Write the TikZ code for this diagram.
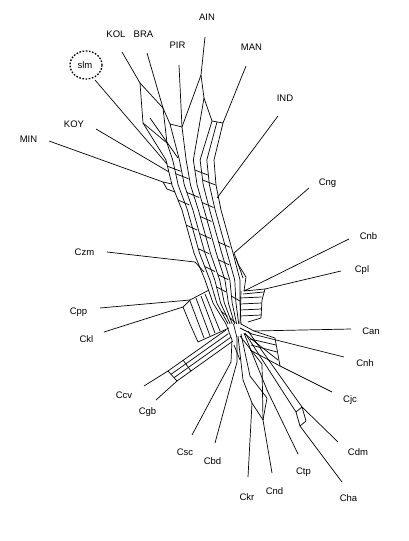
\documentclass[tikz,border=0pt]{standalone}
\usepackage{fontspec}
\setmainfont{Liberation Sans}
\usetikzlibrary{calc}
\begin{document}
\begin{tikzpicture}[x=1pt,y=-1pt,
  edge/.style={line width=0.7pt,black,line join=round},
  taxon/.style={font=\fontsize{9.5}{10}\selectfont,inner sep=0pt},
  ring/.style={line width=1.3pt,dash pattern=on 1.6pt off 1.6pt}]
\useasboundingbox[fill=white] (0,0) rectangle (408,541);

% ---------- taxon labels ----------
\node[taxon] (AIN) at (207,17) {AIN};
\node[taxon] (KOL) at (116,34.5) {KOL};
\node[taxon] (BRA) at (143.5,34) {BRA};
\node[taxon] (PIR) at (177.5,45.5) {PIR};
\node[taxon] (MAN) at (251.5,47) {MAN};
\node[taxon] (IND) at (285,98.5) {IND};
\node[taxon] (slm) at (85,65) {slm};
\node[taxon] (KOY) at (74,124) {KOY};
\node[taxon] (MIN) at (28.5,139) {MIN};
\node[taxon] (Cng) at (327.5,183) {Cng};
\node[taxon] (Czm) at (84.5,252) {Czm};
\node[taxon] (Cpp) at (78.5,312) {Cpp};
\node[taxon] (Ckl) at (86.5,339) {Ckl};
\node[taxon] (Cnb) at (368.5,236) {Cnb};
\node[taxon] (Cpl) at (362,270) {Cpl};
\node[taxon] (Can) at (371,331) {Can};
\node[taxon] (Cnh) at (365,363) {Cnh};
\node[taxon] (Cjc) at (350,400) {Cjc};
\node[taxon] (Cdm) at (358,452) {Cdm};
\node[taxon] (Cha) at (348.5,498.5) {Cha};
\node[taxon] (Ctp) at (303.5,472.5) {Ctp};
\node[taxon] (Cnd) at (274.5,491.5) {Cnd};
\node[taxon] (Ckr) at (247,497) {Ckr};
\node[taxon] (Cbd) at (212.5,461.5) {Cbd};
\node[taxon] (Csc) at (185,452.5) {Csc};
\node[taxon] (Cgb) at (147.5,412.5) {Cgb};
\node[taxon] (Ccv) at (124,395.5) {Ccv};
\draw[ring] (86,65) ellipse [x radius=16, y radius=14];

% ---------- central ribbon ----------
\coordinate (L0) at (166,160); \coordinate (R0) at (214,160);
\coordinate (L1) at (172,185); \coordinate (R1) at (216,185);
\coordinate (L2) at (182,210); \coordinate (R2) at (221,210);
\coordinate (L3) at (194,253); \coordinate (R3) at (233,253);
\coordinate (L4) at (205,280); \coordinate (R4) at (240,280);
\coordinate (L5) at (213,303); \coordinate (R5) at (240,303);
\coordinate (L6) at (226,324); \coordinate (R6) at (241,324);
\foreach \t in {0,0.14,0.28,0.42,0.57,0.71,0.85,1}
  \draw[edge] ($(L0)!\t!(R0)$) -- ($(L1)!\t!(R1)$) -- ($(L2)!\t!(R2)$)
    -- ($(L3)!\t!(R3)$) -- ($(L4)!\t!(R4)$) -- ($(L5)!\t!(R5)$) -- ($(L6)!\t!(R6)$);
% short slanted rungs between neighbouring strands
\foreach \i/\j/\s/\p/\q in {0/1/0.25/0/0.28, 0/1/0.55/0.14/0.42, 0/1/0.4/0.57/0.85,
    0/1/0.8/0.71/1, 1/2/0.3/0.28/0.57, 1/2/0.6/0/0.28, 1/2/0.7/0.57/0.85,
    2/3/0.15/0.42/0.71, 2/3/0.35/0/0.28, 2/3/0.55/0.28/0.57, 2/3/0.75/0.71/1,
    2/3/0.9/0.14/0.42, 3/4/0.25/0.57/0.85, 3/4/0.5/0.14/0.42, 3/4/0.8/0.42/0.71,
    4/5/0.3/0.28/0.57, 4/5/0.7/0.71/1, 5/6/0.4/0.14/0.42, 5/6/0.7/0.42/0.71}
{
  \path ($(L\i)!\s!(L\j)$) coordinate (rl) ($(R\i)!\s!(R\j)$) coordinate (rr);
  \draw[edge] ($(rl)!\p!(rr)$) -- ($(rl)!\q!(rr)+(0,5)$);
}

% ---------- upper group ----------
\coordinate (AIN-e) at (205,37);  \coordinate (AIN-a) at (201,75);
\coordinate (AIN-b) at (204,98);
\coordinate (MAN-e) at (246,66);  \coordinate (MAN-a) at (223,123);
\coordinate (PIR-e) at (179,65);  \coordinate (PIR-a) at (182,127);
\coordinate (BRA-e) at (147,53);  \coordinate (BRA-a) at (163,108);
\coordinate (KOL-e) at (122,52);  \coordinate (KOL-a) at (140,83);
\coordinate (slm-e) at (95,80);   \coordinate (slm-a) at (167,164);
\coordinate (KOY-e) at (96,129);  \coordinate (KOY-a) at (169,172);
\coordinate (MIN-e) at (49,141);  \coordinate (MIN-a) at (163,182);
\coordinate (IND-e) at (278,116); \coordinate (IND-a) at (217,198);

\draw[edge] (AIN-e) -- (AIN-a) -- (AIN-b);
\draw[edge] (AIN-a) -- (PIR-a);
\draw[edge] (AIN-b) -- ($(L0)!0.57!(R0)$);
\draw[edge] (AIN-b) -- (212,121) -- (MAN-a) -- (MAN-e);
\draw[edge] (212,121) -- ($(L0)!0.71!(R0)$);
\draw[edge] (217,122) -- ($(L0)!0.85!(R0)$);
\draw[edge] (MAN-a) -- (R0);
\draw[edge] (PIR-e) -- (PIR-a) -- ($(L0)!0.42!(R0)$);
\draw[edge] (PIR-a) -- (170,124) -- ($(L0)!0.28!(R0)$);
\draw[edge] (BRA-e) -- (BRA-a) -- (170,124);
\draw[edge] (KOL-e) -- (KOL-a) -- (BRA-a) -- (167,143) -- ($(L0)!0.14!(R0)$);
\draw[edge] (KOL-a) -- (143,123) -- (167,143);
\draw[edge] (143,123) -- (L0);
\draw[edge] (150,118) -- (178,158);
\draw[edge] (slm-e) -- (slm-a);
\draw[edge] (KOY-e) -- (KOY-a);
\draw[edge] (MIN-e) -- (MIN-a) -- (172,184);
\draw[edge] (MIN-a) -- (167,189) -- (175,192);
\draw[edge] (IND-e) -- (IND-a);

% ---------- right side ----------
\coordinate (Cng-e) at (309,188); \coordinate (Cng-a) at (234,253);
\coordinate (Cnb-e) at (349,239); \coordinate (Cnb-a) at (244,291);
\coordinate (Cpl-e) at (341,271); \coordinate (Cpl-a) at (265,289);
\coordinate (Can-e) at (351,329); \coordinate (Can-a) at (254,331);
\coordinate (Cnh-e) at (344,357); \coordinate (Cnh-a) at (252,334);
\coordinate (Cjc-e) at (332,392); \coordinate (Cjc-a) at (280,366);

\draw[edge] (Cng-e) -- (Cng-a) -- (238,264) -- (246,277) -- (Cnb-a);
\draw[edge] (236,258) -- (243,278);
\draw[edge] (Cnb-e) -- (Cnb-a) -- (Cpl-a) -- (Cpl-e);
\draw[edge] (243,294) -- (264,292);
\draw[edge] (Cpl-a) -- (262,300) -- (261,318) -- (248,322);
\draw[edge] (241,291) -- (240,324);
\foreach \y in {298,304,310,316} \draw[edge] (240,\y) -- (261.5,\y-1);
% Can / Cnh / Cjc block
\draw[edge] (Can-e) -- (Can-a);
\draw[edge] (Cnh-e) -- (Cnh-a);
\draw[edge] (R6) -- (Can-a) -- (275,338) -- (Cjc-a) -- (Cjc-e);
\draw[edge] (240,328) -- (Cnh-a);
\draw[edge] (250,339) -- (276,345);
\draw[edge] (251,345) -- (277,352);
\draw[edge] (250,350) -- (Cjc-a);
\draw[edge] (245,334) -- (278,360);

% ---------- left side ----------
\coordinate (Czm-e) at (107,252); \coordinate (Czm-a) at (195,262);
\coordinate (Cpp-e) at (100,308); \coordinate (Cpp-a) at (190,300);
\coordinate (Ckl-e) at (104,332); \coordinate (Ckl-a) at (183,307);
\draw[edge] (Czm-e) -- (Czm-a) -- (204,272);
\draw[edge] (Cpp-e) -- (Cpp-a);
\draw[edge] (Ckl-e) -- (Ckl-a) -- (Cpp-a) -- (209,290);
\draw[edge] (Ckl-a) -- (190,324) -- (198,342) -- (229,328);
\foreach \a/\b in {{(190,301)}/{(204,338)}, {(196,298)}/{(210,336)},
    {(201,296)}/{(215,333)}, {(205,294)}/{(220,331)}}
  \draw[edge] \a -- \b;

% ---------- lower left bundle ----------
\coordinate (Ccv-e) at (144,386); \coordinate (Ccv-a) at (168,371);
\coordinate (Cgb-e) at (156,400); \coordinate (Cgb-a) at (177,381);
\draw[edge] (Ccv-e) -- (Ccv-a);
\draw[edge] (Cgb-e) -- (Cgb-a);
\foreach \k in {0,1,2,3}
  \draw[edge] ($(Ccv-a)!\k/3!(Cgb-a)$) -- ($(226,330)!\k/3!(233,341)$);
\draw[edge] (Ccv-a) -- (Cgb-a);
\draw[edge] (183,360) -- (191,371);

% ---------- lower bundle ----------
\coordinate (Csc-e) at (192,435); \coordinate (Csc-a) at (231,362);
\coordinate (Cbd-e) at (215,443); \coordinate (Cbd-a) at (237,362);
\coordinate (Ckr-e) at (248,477); \coordinate (Ckr-a) at (252,403);
\coordinate (Cnd-e) at (272,473); \coordinate (Cnd-a) at (263,420);
\coordinate (Ctp-e) at (298,454); \coordinate (Ctp-a) at (267,390);
\coordinate (Cdm-e) at (338,442); \coordinate (Cdm-a) at (302,407);
\coordinate (Cha-e) at (342,482); \coordinate (Cha-a) at (300,426);
\draw[edge] (Csc-e) -- (Csc-a) -- (232,340) -- (L6);
\draw[edge] (Cbd-e) -- (Cbd-a) -- (237,338) -- ($(L6)!0.5!(R6)$);
\draw[edge] (Ckr-e) -- (Ckr-a) -- (243,380) -- (238,336);
\draw[edge] (Cnd-e) -- (Cnd-a) -- (Ckr-a);
\draw[edge] (Cnd-a) -- (267,398) -- (250,376) -- (241,334);
\draw[edge] (Ctp-e) -- (Ctp-a) -- (244,333);
\draw[edge] (Cdm-e) -- (Cdm-a) -- (248,331);
\draw[edge] (Cha-e) -- (Cha-a) -- (296,412) -- (245,333);
\draw[edge] (296,412) -- (Cdm-a) -- (306,421) -- (Cha-a);
\draw[edge] (240,336) -- (262,364) -- (Cnd-a);
\draw[edge] (234,345) -- (240,360);
\end{tikzpicture}
\end{document}
